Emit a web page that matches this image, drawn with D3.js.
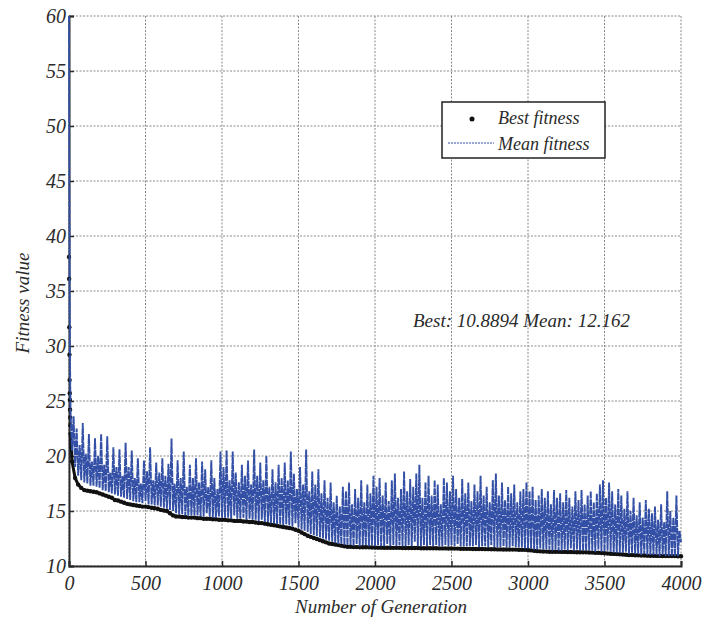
<!DOCTYPE html>
<html>
<head>
<meta charset="utf-8">
<script src="https://cdn.jsdelivr.net/npm/d3@7"></script>
<style>
  body { margin: 0; background: #fff; }
  svg text { font-family: "Liberation Serif", "Times New Roman", Times, "DejaVu Serif", serif; font-style: italic; fill: #2b2b2b; }
</style>
</head>
<body>
<div id="chart"></div>
<script>
// tick labels
var xTicks = [0, 500, 1000, 1500, 2000, 2500, 3000, 3500, 4000];
var yTicks = [10, 15, 20, 25, 30, 35, 40, 45, 50, 55, 60];

// best fitness, generations 0..10 then every 20 generations from 20 to 4000
var bestHead = [38.1, 36.1, 31.7, 29.2, 26.9, 25.7, 25.1, 24.2, 23.5, 22.8, 22.0];
var bestTail = [
  19.5, 18.0, 17.4, 17.1, 16.9, 16.85, 16.8, 16.75, 16.7, 16.6,
  16.5, 16.4, 16.3, 16.2, 16.0, 15.95, 15.85, 15.75, 15.65, 15.6,
  15.55, 15.5, 15.45, 15.4, 15.4, 15.35, 15.3, 15.25, 15.2, 15.1,
  15.05, 15.0, 14.8, 14.6, 14.5, 14.5, 14.45, 14.45, 14.4, 14.4,
  14.4, 14.35, 14.35, 14.3, 14.3, 14.3, 14.25, 14.25, 14.2, 14.2,
  14.2, 14.15, 14.15, 14.1, 14.1, 14.1, 14.05, 14.05, 14.0, 14.0,
  13.95, 13.9, 13.9, 13.85, 13.8, 13.75, 13.7, 13.65, 13.6, 13.55,
  13.5, 13.45, 13.4, 13.3, 13.2, 13.05, 12.9, 12.75, 12.65, 12.55,
  12.45, 12.35, 12.25, 12.15, 12.05, 12.0, 11.95, 11.9, 11.85, 11.8,
  11.75, 11.75, 11.72, 11.72, 11.7, 11.7, 11.7, 11.7, 11.68, 11.68,
  11.67, 11.67, 11.66, 11.66, 11.66, 11.65, 11.65, 11.65, 11.64, 11.64,
  11.64, 11.63, 11.63, 11.63, 11.62, 11.62, 11.62, 11.61, 11.61, 11.61,
  11.6, 11.6, 11.6, 11.59, 11.59, 11.58, 11.58, 11.57, 11.57, 11.56,
  11.56, 11.55, 11.55, 11.54, 11.54, 11.53, 11.53, 11.52, 11.52, 11.51,
  11.51, 11.5, 11.5, 11.5, 11.49, 11.49, 11.48, 11.48, 11.47, 11.46,
  11.42, 11.38, 11.35, 11.33, 11.32, 11.31, 11.3, 11.3, 11.29, 11.29,
  11.28, 11.28, 11.27, 11.27, 11.26, 11.25, 11.25, 11.24, 11.24, 11.23,
  11.22, 11.21, 11.2, 11.18, 11.16, 11.14, 11.12, 11.1, 11.08, 11.06,
  11.04, 11.02, 11.0, 10.99, 10.98, 10.97, 10.96, 10.95, 10.94, 10.93,
  10.93, 10.92, 10.92, 10.91, 10.91, 10.9, 10.9, 10.9, 10.89, 10.89
];

// mean fitness, generations 0..9 then every 10 generations from 10 to 4000
var meanHead = [60, 52, 46, 41, 37, 33, 30, 28, 26.5, 25.5];
var meanTail = [
  24.0, 20.5, 23.6, 19.0, 22.5, 18.2, 21.0, 17.8, 23.0, 17.6, 20.2, 17.5, 22.0, 17.3, 19.5, 17.3, 21.6, 17.2, 20.0, 17.1,
  22.0, 16.9, 19.2, 16.8, 21.8, 16.7, 18.5, 16.6, 20.8, 16.5, 19.0, 16.4, 20.6, 16.3, 18.2, 16.2, 21.2, 16.1, 19.0, 16.0,
  20.5, 15.9, 18.0, 15.8, 19.8, 15.8, 17.5, 15.7, 19.6, 15.9, 18.6, 15.6, 20.8, 15.6, 17.8, 15.5, 19.4, 15.5, 18.5, 15.4,
  19.8, 15.3, 18.2, 15.2, 19.3, 15.1, 21.6, 15.0, 17.5, 14.8, 19.6, 14.7, 18.0, 14.7, 20.4, 14.6, 17.2, 14.6, 19.2, 14.6,
  18.0, 14.6, 19.8, 14.6, 17.6, 14.5, 19.5, 14.5, 18.8, 14.8, 17.2, 14.5, 19.6, 14.4, 18.0, 14.4, 17.0, 14.5, 20.4, 14.4,
  19.0, 14.4, 20.5, 14.4, 17.8, 14.3, 20.4, 14.6, 18.5, 14.3, 17.6, 14.3, 19.2, 14.4, 18.2, 14.2, 19.6, 14.3, 17.4, 14.2,
  20.6, 14.2, 18.2, 14.1, 19.4, 14.2, 17.8, 14.0, 20.0, 14.0, 17.2, 13.9, 18.8, 13.9, 17.6, 13.8, 19.2, 13.8, 18.0, 13.7,
  19.4, 13.8, 17.8, 13.7, 20.4, 13.6, 18.4, 13.9, 17.0, 13.5, 19.0, 13.3, 17.4, 13.2, 20.6, 13.1, 16.8, 12.9, 18.6, 12.8,
  17.4, 12.7, 18.8, 12.6, 16.6, 12.5, 17.8, 12.4, 16.2, 12.3, 17.6, 12.2, 15.8, 12.1, 16.4, 12.0, 15.4, 12.0, 17.2, 11.9,
  16.8, 11.9, 17.6, 11.9, 15.6, 11.8, 17.0, 12.0, 16.2, 11.8, 17.8, 11.9, 15.8, 11.9, 17.4, 11.8, 16.6, 11.9, 18.2, 11.8,
  17.2, 11.9, 18.0, 11.8, 16.4, 11.8, 17.6, 12.0, 15.9, 11.8, 17.8, 11.9, 18.4, 11.8, 16.2, 11.9, 17.0, 11.8, 18.6, 11.8,
  16.8, 11.9, 17.9, 11.8, 17.2, 12.2, 18.4, 11.8, 19.2, 11.8, 16.2, 11.9, 17.6, 11.8, 18.2, 11.9, 16.4, 11.8, 17.8, 11.9,
  17.4, 11.8, 15.6, 11.8, 18.0, 11.9, 17.6, 11.8, 16.8, 11.9, 18.2, 11.8, 17.0, 12.0, 16.2, 11.8, 17.9, 11.8, 16.6, 11.8,
  17.6, 11.8, 15.9, 11.8, 17.4, 11.9, 16.8, 11.7, 18.2, 11.8, 16.4, 11.8, 17.2, 11.7, 15.8, 11.9, 17.8, 11.7, 18.4, 11.7,
  16.4, 11.7, 17.6, 11.8, 16.0, 11.7, 17.2, 11.7, 16.6, 11.8, 17.4, 11.7, 15.8, 11.7, 16.8, 11.7, 17.0, 11.6, 17.6, 11.6,
  16.8, 11.6, 17.2, 11.5, 16.0, 11.5, 16.4, 11.6, 17.0, 11.5, 16.2, 11.5, 16.8, 11.5, 15.6, 11.4, 16.9, 11.5, 16.2, 11.4,
  16.6, 11.4, 15.8, 11.5, 16.9, 11.4, 16.2, 11.6, 15.4, 11.4, 16.8, 11.5, 16.0, 11.4, 16.9, 11.4, 15.6, 11.4, 16.4, 11.4,
  16.8, 11.4, 15.8, 11.3, 16.6, 11.5, 17.4, 11.3, 17.8, 11.3, 16.2, 11.4, 17.6, 11.3, 16.8, 11.2, 15.6, 11.2, 17.0, 11.2,
  16.4, 11.2, 15.2, 11.3, 16.8, 11.1, 15.0, 11.2, 16.2, 11.1, 14.6, 11.1, 15.8, 11.0, 14.4, 11.1, 16.0, 11.0, 15.2, 11.0,
  14.8, 11.0, 15.4, 11.0, 14.2, 10.9, 15.6, 11.0, 14.0, 10.9, 16.8, 10.9, 15.0, 10.9, 14.4, 10.9, 16.4, 10.9, 13.2, 12.16
];

var legendLabels = ["Best fitness", "Mean fitness"];
var summaryText = "Best: 10.8894 Mean: 12.162";
var xTitle = "Number of Generation";
var yTitle = "Fitness value";

var blue = "#3350a6";
var serif = "'Liberation Serif', 'Times New Roman', Times, 'DejaVu Serif', serif";

var margin = {top: 16, right: 26, bottom: 57, left: 69},
    width = 707 - margin.left - margin.right,
    height = 623 - margin.top - margin.bottom;

var best = bestHead.map(function(v, i) { return {g: i, v: v}; })
  .concat(bestTail.map(function(v, i) { return {g: 20 + 20 * i, v: v}; }));
var mean = meanHead.map(function(v, i) { return {g: i, v: v}; })
  .concat(meanTail.map(function(v, i) { return {g: 10 + 10 * i, v: v}; }));

var svg = d3.select("#chart")
  .append("svg")
    .attr("width", width + margin.left + margin.right)
    .attr("height", height + margin.top + margin.bottom)
  .append("g")
    .attr("transform", "translate(" + margin.left + "," + margin.top + ")");

var x = d3.scaleLinear().domain([0, 4000]).range([0, width]);
var y = d3.scaleLinear().domain([10, 60]).range([height, 0]);

// dotted grid
svg.append("g")
  .selectAll("line")
  .data(xTicks)
  .enter()
  .append("line")
    .attr("x1", function(d) { return x(d); })
    .attr("x2", function(d) { return x(d); })
    .attr("y1", 0)
    .attr("y2", height)
    .attr("stroke", "#8a8a8a")
    .attr("stroke-dasharray", "2,1.5");
svg.append("g")
  .selectAll("line")
  .data(yTicks)
  .enter()
  .append("line")
    .attr("x1", 0)
    .attr("x2", width)
    .attr("y1", function(d) { return y(d); })
    .attr("y2", function(d) { return y(d); })
    .attr("stroke", "#8a8a8a")
    .attr("stroke-dasharray", "2,1.5");

// axes (under the data, like the original where the mean covers the left spine)
var xAxis = svg.append("g")
  .attr("transform", "translate(0," + height + ")")
  .call(d3.axisBottom(x).tickValues(xTicks).tickSize(-5).tickPadding(10).tickFormat(d3.format("d")));
var yAxis = svg.append("g")
  .call(d3.axisLeft(y).tickValues(yTicks).tickSize(-5).tickPadding(3).tickFormat(d3.format("d")));
[xAxis, yAxis].forEach(function(a) {
  a.attr("font-family", null).attr("font-size", null);
  a.select(".domain").attr("stroke", "#2a2a2a").attr("stroke-width", 2);
  a.selectAll(".tick line").attr("stroke", "#2a2a2a").attr("stroke-width", 1.5);
  a.selectAll(".tick text")
    .style("font-family", serif)
    .style("font-style", "italic")
    .style("font-size", "20px")
    .attr("fill", "#2b2b2b");
});

// best fitness: sparse dots at the start, dense trail afterwards
svg.append("path")
  .datum(best.filter(function(d) { return d.g >= 10; }))
  .attr("fill", "none")
  .attr("stroke", "#111")
  .attr("stroke-width", 3)
  .attr("d", d3.line()
    .x(function(d) { return x(d.g); })
    .y(function(d) { return y(d.v); }));
svg.append("g")
  .selectAll("circle")
  .data(best)
  .enter()
  .append("circle")
    .attr("cx", function(d) { return x(d.g); })
    .attr("cy", function(d) { return y(d.v); })
    .attr("r", 2.2)
    .attr("fill", "#111");

// mean fitness
svg.append("path")
  .datum(mean)
  .attr("fill", "none")
  .attr("stroke", blue)
  .attr("stroke-width", 1.9)
  .attr("stroke-dasharray", "7,0.7")
  .attr("d", d3.line()
    .x(function(d) { return x(d.g); })
    .y(function(d) { return y(d.v); }));

// axis titles
svg.append("text")
  .attr("x", width / 2 + 6)
  .attr("y", height + 47)
  .attr("text-anchor", "middle")
  .style("font-family", serif)
  .attr("font-size", 19)
  .text(xTitle);
svg.append("text")
  .attr("transform", "translate(-40," + (height / 2 + 12) + ") rotate(-90)")
  .attr("text-anchor", "middle")
  .style("font-family", serif)
  .attr("font-size", 19)
  .text(yTitle);

// summary label
svg.append("text")
  .attr("x", 413 - margin.left)
  .attr("y", 327 - margin.top)
  .style("font-family", serif)
  .attr("font-size", 19)
  .text(summaryText);

// legend
var legend = svg.append("g")
  .attr("transform", "translate(" + (442 - margin.left) + "," + (102 - margin.top) + ")");
legend.append("rect")
  .attr("width", 163)
  .attr("height", 56)
  .attr("fill", "#fff")
  .attr("stroke", "#222")
  .attr("stroke-width", 1.5);
legend.append("circle")
  .attr("cx", 30)
  .attr("cy", 17)
  .attr("r", 2.5)
  .attr("fill", "#111");
legend.append("line")
  .attr("x1", 6)
  .attr("x2", 52)
  .attr("y1", 41)
  .attr("y2", 41)
  .attr("stroke", blue)
  .attr("stroke-dasharray", "2,1");
legend.selectAll("text.lab")
  .data(legendLabels)
  .enter()
  .append("text")
    .attr("class", "lab")
    .attr("x", 56)
    .attr("y", function(d, i) { return 22 + i * 26; })
    .style("font-family", serif)
    .attr("font-size", 18)
    .text(function(d) { return d; });
</script>
</body>
</html>
